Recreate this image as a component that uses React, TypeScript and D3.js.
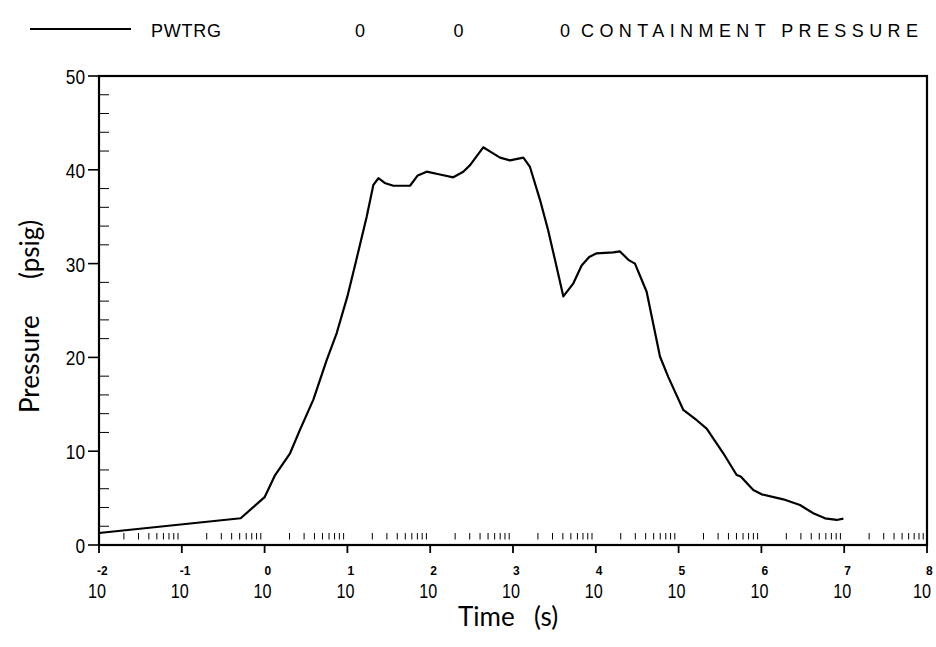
import React from "react";
import * as d3 from "d3";

// ---- data ----
const timeS: number[] = [
  0.01, 0.514, 1.0, 1.34, 2.03, 2.68, 3.88, 5.62, 7.43, 10.0, 12.9, 17.1, 20.6, 23.7,
  28.2, 35.9, 57.0, 70.8, 90.6, 131, 190, 251, 303, 437, 562, 697, 920, 1334, 1603,
  2118, 2649, 3214, 4055, 5358, 6745, 8318, 10233, 16293, 19588, 24717, 29717, 41115,
  59566, 75162, 114025, 165577, 218273, 346737, 502343, 562341, 797995, 1.007e6,
  1.837e6, 2.924e6, 4.236e6, 5.861e6, 8.11e6, 9.772e6,
];
const pressurePsig: number[] = [
  1.28, 2.85, 5.1, 7.46, 9.78, 12.3, 15.5, 19.7, 22.6, 26.5, 30.5, 35.0, 38.4, 39.1,
  38.6, 38.3, 38.3, 39.4, 39.8, 39.5, 39.2, 39.8, 40.5, 42.4, 41.8, 41.3, 41.0, 41.3,
  40.3, 36.8, 33.6, 30.4, 26.5, 27.9, 29.8, 30.7, 31.1, 31.2, 31.3, 30.4, 30.0, 27.0,
  20.1, 17.9, 14.4, 13.3, 12.4, 9.78, 7.46, 7.3, 5.86, 5.4, 4.87, 4.26, 3.38, 2.84,
  2.67, 2.81,
];
const yTicks: number[] = [0, 10, 20, 30, 40, 50];
const yMinorTicks: number[] = [2, 4, 6, 8, 12, 14, 16, 18, 22, 24, 26, 28, 32, 34, 36, 38, 42, 44, 46, 48];
const xDecades: number[] = [-2, -1, 0, 1, 2, 3, 4, 5, 6, 7, 8];
const minorMultipliers: number[] = [2, 3, 4, 5, 6, 7, 8, 9];
const legendSeries = "PWTRG";
const legendZeros: string[] = ["0", "0", "0"];
const legendTitle = "CONTAINMENT PRESSURE";
const xTitle = ["Time", "(s)"];
const yTitle = ["Pressure", "(psig)"];

const W = 936;
const H = 647;
const L = 99, R = 927, T = 76, B = 545;

const sans = "'Liberation Sans', Arial, sans-serif";
const light = "Lato, 'Open Sans', 'DejaVu Sans', sans-serif";

export default function App() {
  const x = d3.scaleLog().domain([1e-2, 1e8]).range([L, R]);
  const y = d3.scaleLinear().domain([0, 50]).range([B, T]);
  const pts: [number, number][] = timeS.map((t, i) => [t, pressurePsig[i]]);
  const line = d3
    .line<[number, number]>()
    .x((d) => x(d[0]))
    .y((d) => y(d[1]))
    .curve(d3.curveLinear);

  const minorX: number[] = [];
  xDecades.slice(0, -1).forEach((dd) => {
    minorMultipliers.forEach((m) => minorX.push(m * Math.pow(10, dd)));
  });

  return (
    <svg
      width={W}
      height={H}
      viewBox={`0 0 ${W} ${H}`}
      style={{ position: "absolute", left: 0, top: 0, background: "#fff" }}
    >
      <rect x={0} y={0} width={W} height={H} fill="#fff" />
      {/* legend */}
      <line x1={30} x2={131} y1={29} y2={29} stroke="#000" strokeWidth={2} />
      <text x={151} y={37} fontFamily={sans} fontSize={18} textLength={70} lengthAdjust="spacing" fill="#000">
        {legendSeries}
      </text>
      {legendZeros.map((z, i) => (
        <text key={i} x={[360, 458.5, 565][i]} y={37} textAnchor="middle" fontFamily={sans} fontSize={18} fill="#000">
          {z}
        </text>
      ))}
      <text x={581} y={37} fontFamily={sans} fontSize={18} textLength={337} lengthAdjust="spacing" fill="#000">
        {legendTitle}
      </text>

      {/* frame */}
      <rect x={L} y={T} width={R - L} height={B - T} fill="none" stroke="#000" strokeWidth={2.2} />

      {/* y ticks */}
      {yTicks.map((v) => {
        const s = String(v);
        return (
          <g key={v}>
            <line x1={88} x2={L} y1={y(v)} y2={y(v)} stroke="#000" strokeWidth={1.6} />
            <text
              x={85 - s.length * 9.6}
              y={y(v) + 8}
              fontFamily={sans}
              fontSize={21}
              textLength={s.length * 9.6}
              lengthAdjust="spacingAndGlyphs"
              fill="#000"
            >
              {s}
            </text>
          </g>
        );
      })}
      {yMinorTicks.map((v) => (
        <line key={v} x1={L} x2={L + 10} y1={y(v)} y2={y(v)} stroke="#000" strokeWidth={1} />
      ))}

      {/* x ticks */}
      {xDecades.map((dd) => {
        const px = x(Math.pow(10, dd));
        return (
          <g key={dd}>
            <line x1={px} x2={px} y1={B} y2={B + 8} stroke="#000" strokeWidth={1.8} />
            <text
              x={Math.min(px - 11, W - 23)}
              y={598}
              fontFamily={sans}
              fontSize={21}
              textLength={18}
              lengthAdjust="spacingAndGlyphs"
              fill="#000"
            >
              10
            </text>
            <text
              x={dd < 0 ? px - 2 : Math.min(px, W - 10)}
              y={575}
              textAnchor="start"
              fontFamily={sans}
              fontWeight="bold"
              fontSize={12}
              fill="#000"
            >
              {dd < 0 ? `-${-dd}` : `${dd}`}
            </text>
          </g>
        );
      })}
      {minorX.map((v, i) => (
        <line key={i} x1={x(v)} x2={x(v)} y1={533} y2={539.5} stroke="#000" strokeWidth={1} />
      ))}

      {/* axis titles */}
      <text x={458} y={626} fontFamily={light} fontSize={26} fill="#000">
        {xTitle[0]}
      </text>
      <text x={534} y={626} fontFamily={light} fontSize={26} fill="#000">
        {xTitle[1]}
      </text>
      <text transform={`translate(39,413) rotate(-90)`} fontFamily={light} fontSize={26} fill="#000">
        {yTitle[0]}
      </text>
      <text transform={`translate(39,279) rotate(-90)`} fontFamily={light} fontSize={26} fill="#000">
        {yTitle[1]}
      </text>

      {/* curve */}
      <path d={line(pts) || ""} fill="none" stroke="#000" strokeWidth={2.2} strokeLinejoin="round" />
    </svg>
  );
}
